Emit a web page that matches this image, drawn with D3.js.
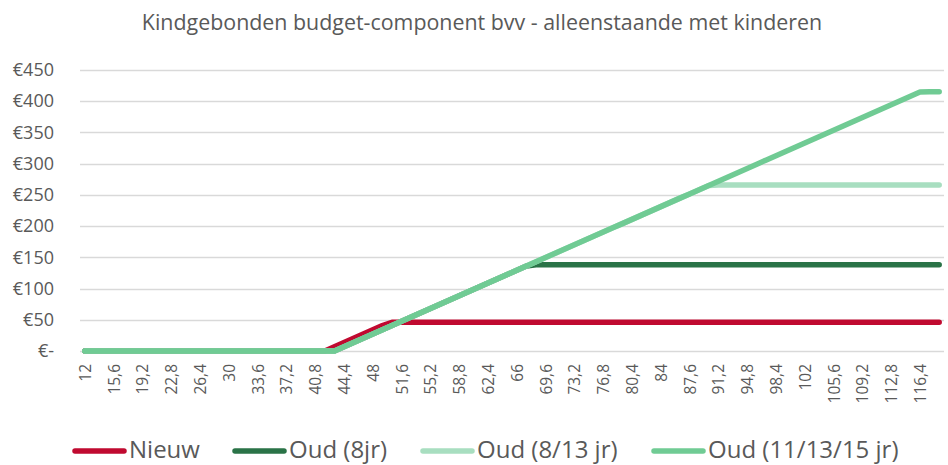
<!DOCTYPE html>
<html>
<head>
<meta charset="utf-8">
<script src="https://cdn.jsdelivr.net/npm/d3@7"></script>
<style>
  body { margin: 0; background: #fff; }
  svg { display: block; font-family: 'Open Sans', sans-serif; }
</style>
</head>
<body>
<svg width="948" height="465"></svg>
<script>
const categories = [
  12, 13.2, 14.4, 15.6, 16.8, 18, 19.2, 20.4, 21.6, 22.8,
  24, 25.2, 26.4, 27.6, 28.8, 30, 31.2, 32.4, 33.6, 34.8,
  36, 37.2, 38.4, 39.6, 40.8, 42, 43.2, 44.4, 45.6, 46.8,
  48, 49.2, 50.4, 51.6, 52.8, 54, 55.2, 56.4, 57.6, 58.8,
  60, 61.2, 62.4, 63.6, 64.8, 66, 67.2, 68.4, 69.6, 70.8,
  72, 73.2, 74.4, 75.6, 76.8, 78, 79.2, 80.4, 81.6, 82.8,
  84, 85.2, 86.4, 87.6, 88.8, 90, 91.2, 92.4, 93.6, 94.8,
  96, 97.2, 98.4, 99.6, 100.8, 102, 103.2, 104.4, 105.6, 106.8,
  108, 109.2, 110.4, 111.6, 112.8, 114, 115.2, 116.4, 117.6, 118.8
];

const nieuw = [
  0, 0, 0, 0, 0, 0, 0, 0, 0, 0,
  0, 0, 0, 0, 0, 0, 0, 0, 0, 0,
  0, 0, 0, 0, 0, 0, 6.8, 13.6, 20.4, 27.2,
  34, 40.8, 46, 46, 46, 46, 46, 46, 46, 46,
  46, 46, 46, 46, 46, 46, 46, 46, 46, 46,
  46, 46, 46, 46, 46, 46, 46, 46, 46, 46,
  46, 46, 46, 46, 46, 46, 46, 46, 46, 46,
  46, 46, 46, 46, 46, 46, 46, 46, 46, 46,
  46, 46, 46, 46, 46, 46, 46, 46, 46, 46
];

const oud8 = [
  0, 0, 0, 0, 0, 0, 0, 0, 0, 0,
  0, 0, 0, 0, 0, 0, 0, 0, 0, 0,
  0, 0, 0, 0, 0, 0, 0, 6.8, 13.6, 20.4,
  27.2, 34, 40.8, 47.6, 54.4, 61.2, 68, 74.8, 81.6, 88.4,
  95.2, 102, 108.8, 115.6, 122.4, 129.2, 136, 138, 138, 138,
  138, 138, 138, 138, 138, 138, 138, 138, 138, 138,
  138, 138, 138, 138, 138, 138, 138, 138, 138, 138,
  138, 138, 138, 138, 138, 138, 138, 138, 138, 138,
  138, 138, 138, 138, 138, 138, 138, 138, 138, 138
];

const oud813 = [
  0, 0, 0, 0, 0, 0, 0, 0, 0, 0,
  0, 0, 0, 0, 0, 0, 0, 0, 0, 0,
  0, 0, 0, 0, 0, 0, 0, 6.8, 13.6, 20.4,
  27.2, 34, 40.8, 47.6, 54.4, 61.2, 68, 74.8, 81.6, 88.4,
  95.2, 102, 108.8, 115.6, 122.4, 129.2, 136, 142.8, 149.6, 156.4,
  163.2, 170, 176.8, 183.6, 190.4, 197.2, 204, 210.8, 217.6, 224.4,
  231.2, 238, 244.8, 251.6, 258.4, 265.2, 266, 266, 266, 266,
  266, 266, 266, 266, 266, 266, 266, 266, 266, 266,
  266, 266, 266, 266, 266, 266, 266, 266, 266, 266
];

const oud111315 = [
  0, 0, 0, 0, 0, 0, 0, 0, 0, 0,
  0, 0, 0, 0, 0, 0, 0, 0, 0, 0,
  0, 0, 0, 0, 0, 0, 0, 6.8, 13.6, 20.4,
  27.2, 34, 40.8, 47.6, 54.4, 61.2, 68, 74.8, 81.6, 88.4,
  95.2, 102, 108.8, 115.6, 122.4, 129.2, 136, 142.8, 149.6, 156.4,
  163.2, 170, 176.8, 183.6, 190.4, 197.2, 204, 210.8, 217.6, 224.4,
  231.2, 238, 244.8, 251.6, 258.4, 265.2, 272, 278.8, 285.6, 292.4,
  299.2, 306, 312.8, 319.6, 326.4, 333.2, 340, 346.8, 353.6, 360.4,
  367.2, 374, 380.8, 387.6, 394.4, 401.2, 408, 414.8, 415, 415
];

const yTicks = [0, 50, 100, 150, 200, 250, 300, 350, 400, 450];
const seriesNames = ['Nieuw', 'Oud (8jr)', 'Oud (8/13 jr)', 'Oud (11/13/15 jr)'];
const seriesColors = ['#C00A30', '#2A7347', '#A8DEC0', '#70CB94'];
const title = 'Kindgebonden budget-component bvv - alleenstaande met kinderen';

const series = [nieuw, oud8, oud813, oud111315];

const margin = { top: 70, right: 4, bottom: 114, left: 80 };
const width = 948 - margin.left - margin.right;
const height = 465 - margin.top - margin.bottom;

const svg = d3.select('svg');

svg.append('text')
    .attr('x', 482)
    .attr('y', 30)
    .attr('text-anchor', 'middle')
    .style('font-size', '21.4px')
    .style('fill', '#595959')
    .text(title);

const g = svg.append('g')
    .attr('transform', `translate(${margin.left},${margin.top})`);

const x = d3.scalePoint()
    .domain(categories)
    .range([0, width])
    .padding(0.5);

const y = d3.scaleLinear()
    .domain([0, 450])
    .range([height, 0]);

// gridlines
g.append('g')
  .selectAll('line')
  .data(yTicks)
  .enter()
  .append('line')
    .attr('x1', 0)
    .attr('x2', width)
    .attr('y1', d => Math.round(y(d)) + 0.5)
    .attr('y2', d => Math.round(y(d)) + 0.5)
    .style('stroke', '#d9d9d9')
    .style('stroke-width', 1.3);

const yAxis = g.append('g')
    .call(d3.axisLeft(y)
      .tickValues(yTicks)
      .tickSize(0)
      .tickPadding(26)
      .tickFormat(d => d === 0 ? '€-' : '€' + d));
yAxis.select('.domain').remove();
yAxis.selectAll('text')
    .style('font-size', '18px')
    .style('font-family', "'Open Sans', sans-serif")
    .style('fill', '#595959');

const fmt = d => String(d).replace('.', ',');
const xAxis = g.append('g')
    .attr('transform', `translate(0,${height})`)
    .call(d3.axisBottom(x)
      .tickValues(categories.filter((d, i) => i % 3 === 0))
      .tickSize(0)
      .tickFormat(fmt));
xAxis.select('.domain').remove();
xAxis.selectAll('text')
    .attr('transform', 'rotate(-90)')
    .attr('text-anchor', 'end')
    .attr('dy', '0.35em')
    .attr('x', -13)
    .attr('y', 0)
    .style('font-size', '15.5px')
    .style('font-family', "'Open Sans', sans-serif")
    .style('fill', '#595959');

const line = d3.line()
    .x((d, i) => x(categories[i]))
    .y(d => y(d));

g.selectAll('.series')
  .data(series)
  .enter()
  .append('path')
    .attr('class', 'series')
    .attr('d', d => line(d))
    .style('fill', 'none')
    .style('stroke', (d, i) => seriesColors[i])
    .style('stroke-width', 5.5)
    .style('stroke-linejoin', 'round')
    .style('stroke-linecap', 'round');

// legend
const legendX = [72, 232, 420, 651];
const legend = svg.append('g')
    .attr('transform', 'translate(0,451)');
seriesNames.forEach((name, i) => {
  legend.append('line')
      .attr('x1', legendX[i] + 3)
      .attr('x2', legendX[i] + 52)
      .attr('y1', 0)
      .attr('y2', 0)
      .style('stroke', seriesColors[i])
      .style('stroke-width', 5.5)
      .style('stroke-linecap', 'round');
  legend.append('text')
      .attr('x', legendX[i] + 57)
      .attr('y', 6.5)
      .style('font-size', '24px')
      .style('fill', '#595959')
      .text(name);
});
</script>
</body>
</html>
